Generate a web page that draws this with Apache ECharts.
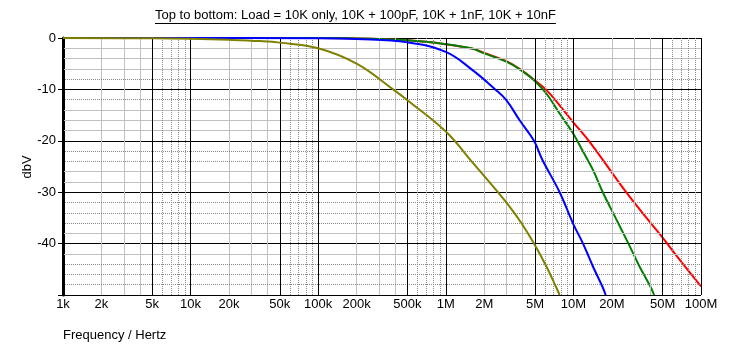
<!DOCTYPE html>
<html>
<head>
<meta charset="utf-8">
<title>Load response</title>
<script src="https://cdn.jsdelivr.net/npm/echarts@6/dist/echarts.min.js"></script>
<style>
html,body{margin:0;padding:0;background:#fff;}
#main{width:753px;height:352px;}
</style>
</head>
<body>
<div id="main"></div>
<script>
var titleText = 'Top to bottom: Load = 10K only, 10K + 100pF, 10K + 1nF, 10K + 10nF';
var xTickValues = [1e3, 2e3, 5e3, 1e4, 2e4, 5e4, 1e5, 2e5, 5e5, 1e6, 2e6, 5e6, 1e7, 2e7, 5e7, 1e8];
var loadNames = ['10K only', '10K + 100pF', '10K + 1nF', '10K + 10nF'];

// [Hz, dBV]
var load10k = [[1e3,0],[1e5,-0.02],[2e5,-0.08],[5e5,-0.45],[1e6,-1.2],[1.63e6,-2.1],[1.95e6,-2.8],[2.98e6,-4.5],[3.79e6,-6.0],[4.91e6,-8.1],[6.13e6,-10.1],[7.8e6,-13.1],[9.9e6,-16.3],[1.34e7,-20.2],[2.59e7,-30],[4.04e7,-36],[5.02e7,-38.9],[6.79e7,-43.1],[1e8,-48.3]];
var load100p = [[1e3,0],[1e5,-0.02],[2e5,-0.08],[5e5,-0.45],[1e6,-1.2],[1.63e6,-2.1],[1.95e6,-2.9],[2.98e6,-4.6],[3.79e6,-6.1],[4.91e6,-8.2],[6.13e6,-10.8],[7.8e6,-14.7],[9.9e6,-18.5],[1.19e7,-22.1],[1.42e7,-25.6],[1.7e7,-30],[2.14e7,-35],[2.7e7,-40],[3.29e7,-44.4],[4.02e7,-48.4],[4.29e7,-50]];
var load1n = [[1e3,0],[1e5,-0.05],[2e5,-0.2],[5e5,-0.85],[1e6,-2.7],[1.63e6,-6.3],[2.44e6,-10],[2.98e6,-12.1],[3.79e6,-16],[4.91e6,-20],[5.71e6,-23.7],[7.8e6,-30],[9.9e6,-36],[1.19e7,-40],[1.42e7,-44.4],[1.69e7,-48.4],[1.79e7,-50]];
var load10n = [[1e3,0],[5e3,-0.05],[1e4,-0.15],[2e4,-0.35],[3.5e4,-0.6],[5e4,-0.9],[1e5,-2.0],[2e5,-5.0],[3.86e5,-10],[5e5,-12.1],[1e6,-18.2],[1.63e6,-24.3],[2.56e6,-30],[3.16e6,-32.8],[3.91e6,-36],[4.91e6,-40],[6.13e6,-44.4],[7.3e6,-48.4],[7.8e6,-50]];

var seriesData = [load10k, load100p, load1n, load10n];
var seriesColors = ['#ff0000', '#008000', '#0000ff', '#808000'];

var font = '"Liberation Sans", Arial, sans-serif';
var fontSize = 13;

// grid lines: 1 and 5 black, 2-4 light grey, 6-9 dotted grey
var xMajor = [], xLight = [], xDot = [];
for (var d = 1e3; d <= 1e8; d *= 10) {
	xMajor.push(d);
	if (d < 1e8) {
		xMajor.push(5 * d);
		for (var m = 2; m <= 4; m++) xLight.push(m * d);
		for (var m = 6; m <= 9; m++) xDot.push(m * d);
	}
}
var yLight = [-2, -4, -6, -14, -16, -18, -26, -28, -38, -42];
var yDot = [-8, -12, -22, -24, -32, -34, -36, -44, -46, -48];

function vLines(vals) { return vals.map(function (v) { return {xAxis: v}; }); }
function hLines(vals) { return vals.map(function (v) { return {yAxis: v}; }); }

function gridSeries(data, color, type) {
	return {
		type: 'line', data: [], z: 1, silent: true,
		markLine: {
			silent: true, symbol: ['none', 'none'], animation: false,
			label: {show: false},
			lineStyle: {color: color, width: 1, type: type},
			data: data
		}
	};
}

function fmtFreq(v) {
	if (v >= 1e6) return Math.round(v / 1e6) + 'M';
	return Math.round(v / 1e3) + 'k';
}

var series = [
	gridSeries(vLines(xLight).concat(hLines(yLight)), '#c0c0c0', 'solid'),
	gridSeries(vLines(xDot).concat(hLines(yDot)), '#8a8a8a', [1, 1]),
	gridSeries(vLines(xMajor), '#000', 'solid')
];
seriesData.forEach(function (d, i) {
	series.push({
		name: loadNames[i],
		type: 'line',
		data: d,
		z: 3 + i,
		clip: false,
		showSymbol: false,
		smooth: 0.4,
		lineStyle: {color: seriesColors[i], width: 2},
		itemStyle: {color: seriesColors[i]}
	});
});

var ctx = document.createElement('canvas').getContext('2d');
ctx.font = fontSize + 'px ' + font;
var titleW = ctx.measureText(titleText).width;
var titleX = 155;

var chart = echarts.init(document.getElementById('main'));
chart.setOption({
	animation: false,
	backgroundColor: '#fff',
	textStyle: {fontFamily: font},
	title: [{
		text: titleText, left: titleX, top: 9, padding: 0,
		textStyle: {fontSize: fontSize, fontWeight: 'normal', color: '#000', fontFamily: font}
	}, {
		text: 'Frequency / Hertz', left: 63, top: 329, padding: 0,
		textStyle: {fontSize: fontSize, fontWeight: 'normal', color: '#000', fontFamily: font}
	}],
	graphic: [{
		type: 'line', silent: true,
		shape: {x1: titleX, y1: 23.5, x2: titleX + titleW, y2: 23.5},
		style: {stroke: '#000', lineWidth: 1}
	}, {
		type: 'text', silent: true,
		x: 27, y: 167, rotation: Math.PI / 2,
		style: {text: 'dbV', fill: '#000', font: fontSize + 'px ' + font, align: 'center', verticalAlign: 'middle'}
	}],
	grid: {left: 63, right: 52, top: 38, height: 257, containLabel: false},
	xAxis: {
		type: 'log', logBase: 10, min: 1e3, max: 1e8,
		axisLine: {show: true, lineStyle: {color: '#000', width: 1}},
		axisTick: {show: false},
		axisLabel: {customValues: xTickValues, formatter: fmtFreq, margin: 3, color: '#000', fontSize: fontSize, fontFamily: font},
		splitLine: {show: false},
		minorSplitLine: {show: false}
	},
	yAxis: {
		type: 'value', min: -50, max: 0, interval: 10,
		axisLine: {show: true, onZero: false, lineStyle: {color: '#000', width: 3}},
		axisTick: {show: true, length: 5, lineStyle: {color: '#000'}},
		axisLabel: {
			margin: 7, color: '#000', fontSize: fontSize, fontFamily: font,
			formatter: function (v) { return v === -50 ? '' : String(v); }
		},
		splitLine: {show: true, lineStyle: {color: '#000', width: 1}}
	},
	series: series
});
</script>
</body>
</html>
